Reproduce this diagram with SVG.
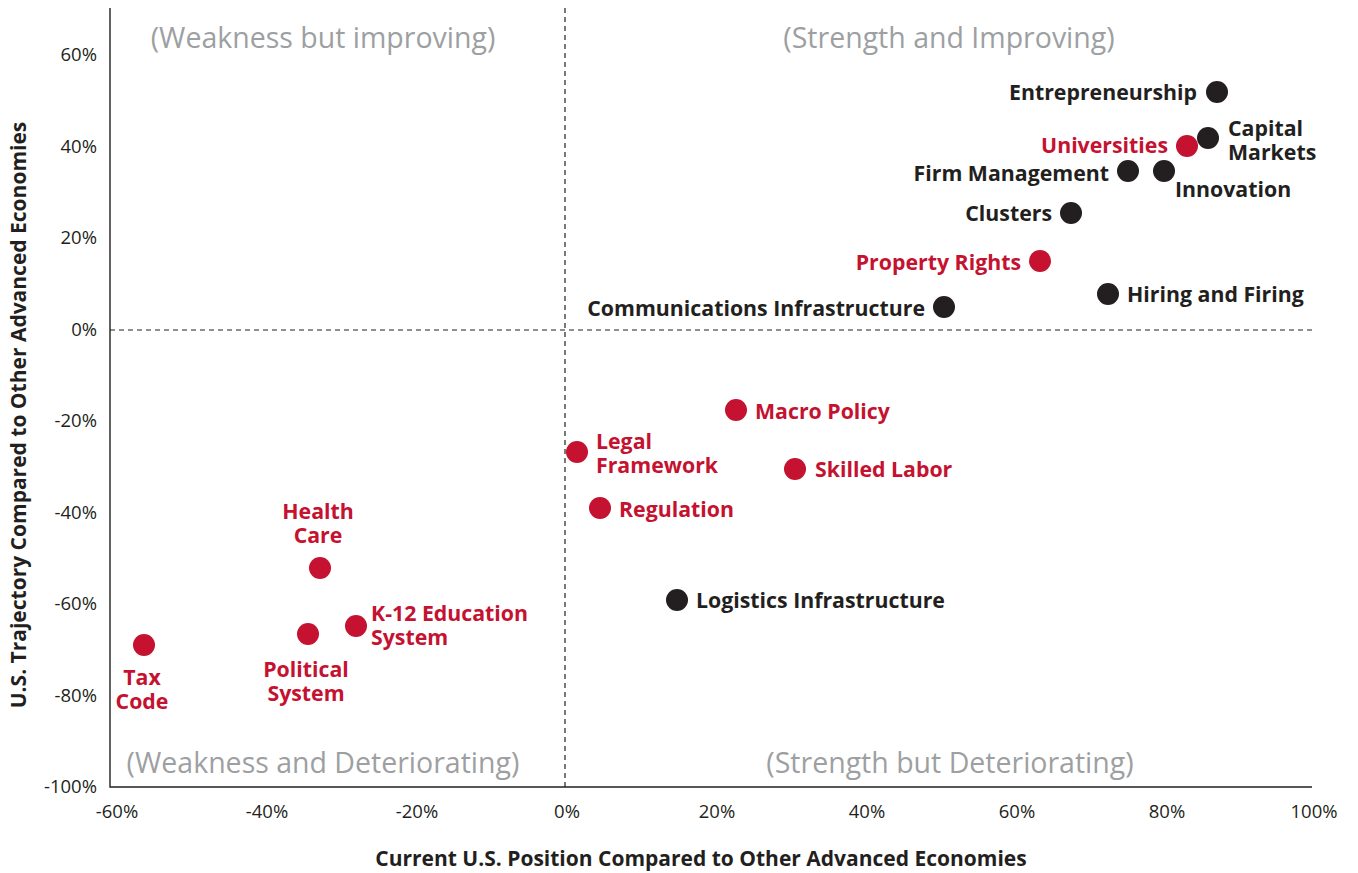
<svg xmlns="http://www.w3.org/2000/svg" width="1358" height="873" viewBox="0 0 1358 873">
<style>
.bg{fill:#fff}
.axis{stroke:#231f20;stroke-width:1.4;fill:none}
.dash{stroke:#231f20;stroke-width:1.2;stroke-dasharray:5 4;fill:none}
.tick{font-family:"Open Sans","Liberation Sans",sans-serif;font-size:18.5px;fill:#231f20}
.quad{font-family:"Open Sans","Liberation Sans",sans-serif;font-size:28.5px;fill:#9d9fa2}
.title{font-family:"Open Sans","Liberation Sans",sans-serif;font-size:21px;font-weight:bold;fill:#231f20}
.lbl{font-family:"Open Sans","Liberation Sans",sans-serif;font-size:21.3px;font-weight:bold}
.blk{fill:#231f20}
.red{fill:#c41230}
</style>
<rect class="bg" x="0" y="0" width="1358" height="873"/>
<g id="axes">
<path class="axis" d="M110,8 V787 H1312"/>
<path class="dash" d="M565,8 V787"/>
<path class="dash" d="M110,330 H1312"/>
</g>
<g id="ticks-y" class="tick" text-anchor="end">
<text x="97" y="61">60%</text>
<text x="97" y="153">40%</text>
<text x="97" y="244">20%</text>
<text x="97" y="336">0%</text>
<text x="97" y="427">-20%</text>
<text x="97" y="519">-40%</text>
<text x="97" y="610">-60%</text>
<text x="97" y="702">-80%</text>
<text x="97" y="793">-100%</text>
</g>
<g id="ticks-x" class="tick" text-anchor="middle">
<text x="117" y="818">-60%</text>
<text x="267" y="818">-40%</text>
<text x="417" y="818">-20%</text>
<text x="567" y="818">0%</text>
<text x="717" y="818">20%</text>
<text x="867" y="818">40%</text>
<text x="1017" y="818">60%</text>
<text x="1167" y="818">80%</text>
<text x="1314" y="818">100%</text>
</g>
<g id="quadrants" class="quad" text-anchor="middle">
<text x="323" y="48">(Weakness but improving)</text>
<text x="949" y="48">(Strength and Improving)</text>
<text x="323" y="773">(Weakness and Deteriorating)</text>
<text x="950" y="773">(Strength but Deteriorating)</text>
</g>
<g id="axis-titles" class="title" text-anchor="middle">
<text x="701" y="866">Current U.S. Position Compared to Other Advanced Economies</text>
<text transform="translate(26,415) rotate(-90)">U.S. Trajectory Compared to Other Advanced Economies</text>
</g>
<g id="connectors"></g>
<g id="n-entrepreneurship"><circle class="blk" cx="1217" cy="92" r="11"/><text class="lbl blk" x="1197" y="100" text-anchor="end">Entrepreneurship</text></g>
<g id="n-universities"><circle class="red" cx="1187" cy="146" r="11"/><text class="lbl red" x="1168" y="153" text-anchor="end">Universities</text></g>
<g id="n-capital-markets"><circle class="blk" cx="1208" cy="138" r="11"/><text class="lbl blk" x="1228" y="136">Capital<tspan x="1228" dy="24">Markets</tspan></text></g>
<g id="n-firm-management"><circle class="blk" cx="1128" cy="171" r="11"/><text class="lbl blk" x="1109" y="181" text-anchor="end">Firm Management</text></g>
<g id="n-innovation"><circle class="blk" cx="1164" cy="171" r="11"/><text class="lbl blk" x="1175" y="197">Innovation</text></g>
<g id="n-clusters"><circle class="blk" cx="1071" cy="213" r="11"/><text class="lbl blk" x="1052" y="221" text-anchor="end">Clusters</text></g>
<g id="n-property-rights"><circle class="red" cx="1040" cy="261" r="11"/><text class="lbl red" x="1021" y="270" text-anchor="end">Property Rights</text></g>
<g id="n-hiring-firing"><circle class="blk" cx="1108" cy="294" r="11"/><text class="lbl blk" x="1127" y="302">Hiring and Firing</text></g>
<g id="n-communications"><circle class="blk" cx="944" cy="307" r="11"/><text class="lbl blk" x="925" y="316" text-anchor="end">Communications Infrastructure</text></g>
<g id="n-macro-policy"><circle class="red" cx="736" cy="410" r="11"/><text class="lbl red" x="755" y="419">Macro Policy</text></g>
<g id="n-legal-framework"><circle class="red" cx="577" cy="452" r="11"/><text class="lbl red" x="596" y="449">Legal<tspan x="596" dy="24">Framework</tspan></text></g>
<g id="n-skilled-labor"><circle class="red" cx="795" cy="469" r="11"/><text class="lbl red" x="815" y="477">Skilled Labor</text></g>
<g id="n-regulation"><circle class="red" cx="600" cy="508" r="11"/><text class="lbl red" x="619" y="517">Regulation</text></g>
<g id="n-logistics"><circle class="blk" cx="677" cy="600" r="11"/><text class="lbl blk" x="696" y="608">Logistics Infrastructure</text></g>
<g id="n-health-care"><circle class="red" cx="320" cy="568" r="11"/><text class="lbl red" x="318" y="519" text-anchor="middle">Health<tspan x="318" dy="24">Care</tspan></text></g>
<g id="n-k12"><circle class="red" cx="356" cy="626" r="11"/><text class="lbl red" x="371" y="621">K-12 Education<tspan x="371" dy="24">System</tspan></text></g>
<g id="n-political-system"><circle class="red" cx="308" cy="634" r="11"/><text class="lbl red" x="306" y="677" text-anchor="middle">Political<tspan x="306" dy="24">System</tspan></text></g>
<g id="n-tax-code"><circle class="red" cx="144" cy="645" r="11"/><text class="lbl red" x="142" y="685" text-anchor="middle">Tax<tspan x="142" dy="24">Code</tspan></text></g>
</svg>
